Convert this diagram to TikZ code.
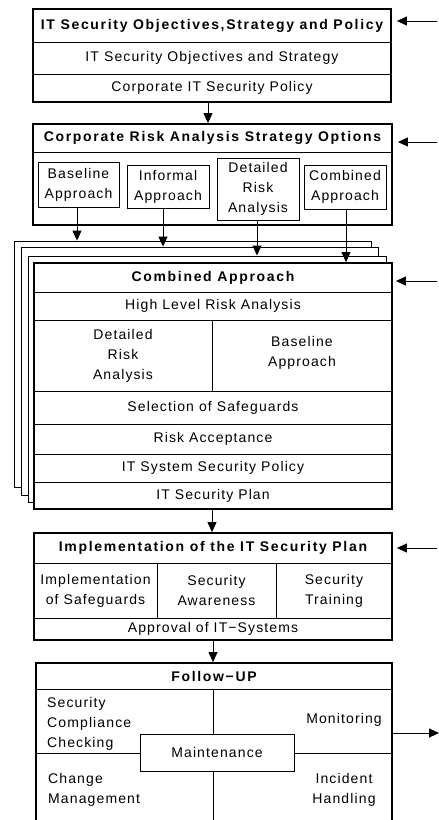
\documentclass[tikz,border=0pt]{standalone}
\usepackage{fontspec}
\setmainfont{Liberation Sans}[LetterSpace=8]
\newfontfamily\headfont{Liberation Sans}[LetterSpace=12]
\usetikzlibrary{arrows.meta,fit}
\newcommand\bodysize{\fontsize{14}{20}\selectfont}
\tikzset{
  every node/.style={font=\bodysize},
  frame/.style={draw, line width=1.8pt, inner sep=0pt},
  cell/.style={draw, line width=0.8pt, inner sep=0pt},
  txt/.style={inner sep=0pt, align=center},
  headtxt/.style={txt, font=\bodysize\headfont\bfseries},
  page/.style={draw, line width=0.9pt, fill=white, inner sep=0pt},
  arr/.style={line width=0.9pt, -{Triangle[length=10pt,width=9pt]}},
}
\begin{document}
\begin{tikzpicture}[x=1pt,y=-1pt]
\useasboundingbox (0,0) rectangle (439,820);
\clip (0,0) rectangle (439,820);

% IT security objectives, strategy and policy
\node[cell, fit={(33,9)(391,42)}] (t1) {};
\node[headtxt] (t1x) at (t1) {IT Security Objectives,Strategy and Policy};
\node[cell, fit={(33,42)(391,74)}] (r11) {};
\node[txt] (r11x) at (r11) {IT Security Objectives and Strategy};
\node[cell, fit={(33,74)(391,102)}] (r12) {};
\node[txt] (r12x) at (r12) {Corporate IT Security Policy};
\node[frame, fit={(33,9)(391,102)}] (b1) {};

% Corporate risk analysis strategy options
\node[cell, fit={(33,124)(392,152)}] (t2) {};
\node[headtxt] (t2x) at (t2) {Corporate Risk Analysis Strategy Options};
\node[cell, fit={(38,162)(119,207)}] (o1) {};
\node[txt] (o1x) at (o1) {Baseline\\Approach};
\node[cell, fit={(127,165)(209,208)}] (o2) {};
\node[txt] (o2x) at (o2) {Informal\\Approach};
\node[cell, fit={(217,158)(299,220)}] (o3) {};
\node[txt] (o3x) at (o3) {Detailed\\Risk\\Analysis};
\node[cell, fit={(304,165)(386,209)}] (o4) {};
\node[txt] (o4x) at (o4) {Combined\\Approach};
\node[frame, fit={(33,124)(392,225)}] (b2) {};

% stacked sheets behind the combined approach
\node[page, fit={(14,241)(371,487)}] (pg1) {};
\node[page, fit={(21,247)(378,495)}] (pg2) {};
\node[page, fit={(28,256)(386,502)}] (pg3) {};

% Combined approach
\node[frame, fill=white, fit={(34,263)(392,509)}] (b3) {};
\node[cell, fit={(34,263)(392,292)}] (t3) {};
\node[headtxt] (t3x) at (t3) {Combined Approach};
\node[cell, fit={(34,292)(392,320)}] (c1) {};
\node[txt] (c1x) at (c1) {High Level Risk Analysis};
\node[cell, fit={(34,320)(212,391)}] (c2) {};
\node[txt] (c2x) at (c2) {Detailed\\Risk\\Analysis};
\node[cell, fit={(212,320)(392,391)}] (c3) {};
\node[txt] (c3x) at ([yshift=2.5pt]c3.center) {Baseline\\Approach};
\node[cell, fit={(34,391)(392,424)}] (c4) {};
\node[txt] (c4x) at (c4) {Selection of Safeguards};
\node[cell, fit={(34,424)(392,454)}] (c5) {};
\node[txt] (c5x) at (c5) {Risk Acceptance};
\node[cell, fit={(34,454)(392,482)}] (c6) {};
\node[txt] (c6x) at (c6) {IT System Security Policy};
\node[cell, fit={(34,482)(392,509)}] (c7) {};
\node[txt] (c7x) at (c7) {IT Security Plan};
\node[frame, fit={(34,263)(392,509)}] (b3f) {};

% Implementation of the IT security plan
\node[cell, fit={(34,533)(392,563)}] (t4) {};
\node[headtxt] (t4x) at (t4) {Implementation of the IT Security Plan};
\node[cell, fit={(34,563)(157,618)}] (d1) {};
\node[txt] (d1x) at (d1) {Implementation\\of Safeguards};
\node[cell, fit={(157,563)(276,618)}] (d2) {};
\node[txt] (d2x) at (d2) {Security\\Awareness};
\node[cell, fit={(276,563)(392,618)}] (d3) {};
\node[txt] (d3x) at (d3) {Security\\Training};
\node[cell, fit={(34,618)(392,640)}] (d4) {};
\node[txt] (d4x) at (d4) {Approval of IT−Systems};
\node[frame, fit={(34,533)(392,640)}] (b4) {};

% Follow-up
\node[cell, fit={(36,663)(392,689)}] (t5) {};
\node[headtxt] (t5x) at (t5) {Follow−UP};
\node[cell, fit={(36,689)(213,753)}] (q1) {};
\node[cell, fit={(213,689)(392,753)}] (q2) {};
\node[cell, fit={(36,753)(213,830)}] (q3) {};
\node[cell, fit={(213,753)(392,830)}] (q4) {};
\node[txt, align=left, anchor=west] (scc) at (47,724) {Security\\Compliance\\Checking};
\node[txt] (mon) at (344,720) {Monitoring};
\node[txt, align=left, anchor=west] (chg) at (48,790) {Change\\Management};
\node[txt] (inc) at (344,790) {Incident\\Handling};
\node[cell, fill=white, fit={(140,734)(294,771)}] (mt) {};
\node[txt] (mtx) at (mt) {Maintenance};
\node[frame, fit={(36,663)(392,830)}] (b5) {};

% flow between the stages
\draw[arr] ([xshift=-4pt]b1.south) -- ([xshift=-4pt]b1.south |- b2.north);
\draw[arr] ([xshift=-1.5pt]o1.south) -- ([xshift=-1.5pt]o1.south |- pg1.north);
\draw[arr] ([xshift=-5pt]o2.south) -- ([xshift=-5pt]o2.south |- pg2.north);
\draw[arr] ([xshift=-1pt]o3.south) -- ([xshift=-1pt]o3.south |- pg3.north);
\draw[arr] ([xshift=1pt]o4.south) -- ([xshift=1pt]o4.south |- b3.north);
\draw[arr] ([xshift=-1pt]b3.south) -- ([xshift=-1pt]b3.south |- b4.north);
\draw[arr] (b4.south) -- (b4.south |- b5.north);

% inputs from the right and the output of the follow-up
\coordinate (in1) at (437,21);
\coordinate (in2) at (437,142);
\coordinate (in3) at (437,281);
\coordinate (in4) at (437,548);
\coordinate (out) at (439,733);
\draw[arr] (in1) -- ([xshift=5pt]in1 -| b1.east);
\draw[arr] (in2) -- ([xshift=5pt]in2 -| b2.east);
\draw[arr] (in3) -- ([xshift=3pt]in3 -| b3.east);
\draw[arr] (in4) -- ([xshift=4pt]in4 -| b4.east);
\draw[arr] (out -| b5.east) -- (out);
\end{tikzpicture}
\end{document}
